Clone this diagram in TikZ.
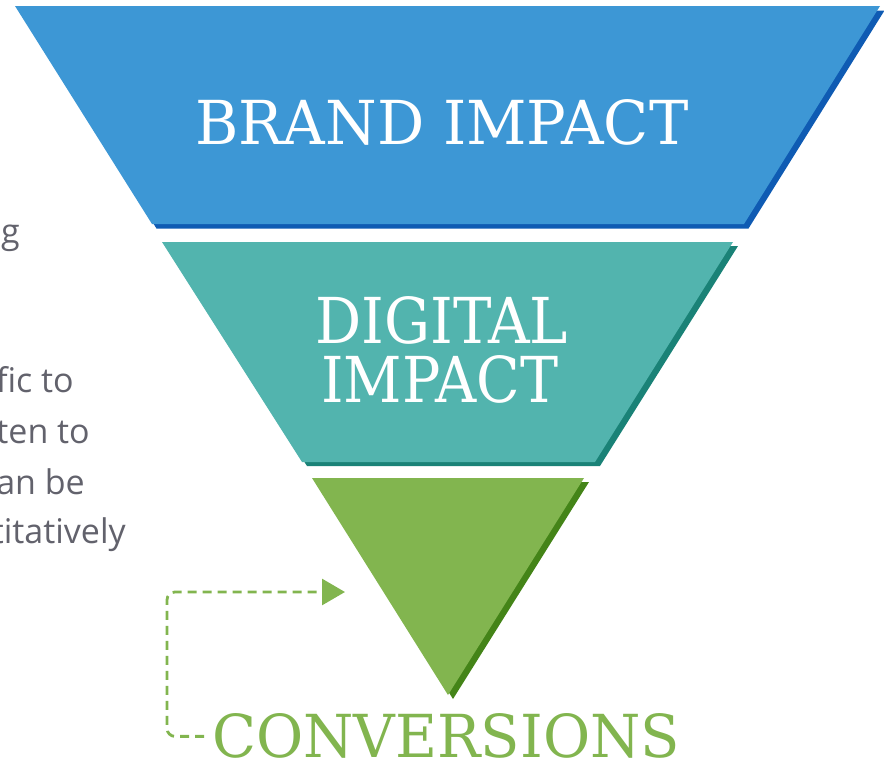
\documentclass[tikz,border=0pt]{standalone}
\usepackage{fontspec}
\setmainfont{DejaVu Serif}
\newfontfamily\bodyfont{Open Sans}
\usetikzlibrary{arrows.meta}
\definecolor{bluemain}{HTML}{3D97D5}
\definecolor{blueshade}{HTML}{0F5BB3}
\definecolor{tealmain}{HTML}{52B4AE}
\definecolor{tealshade}{HTML}{1A8277}
\definecolor{greenmain}{HTML}{82B54F}
\definecolor{greenshade}{HTML}{448418}
\definecolor{bodygray}{HTML}{62626C}
\tikzset{
  headtext/.style={inner sep=0pt, text=white, anchor=south west},
  sidetext/.style={inner sep=0pt, text=bodygray, anchor=base east, font=\bodyfont\fontsize{34}{34}\selectfont},
  convarrow/.style={draw=greenmain, line width=2.8pt, dash pattern=on 9pt off 6pt, rounded corners=8pt,
    -{Triangle[length=23pt,width=26pt]}},
}
\begin{document}
\begin{tikzpicture}[x=1pt,y=-1pt]
\useasboundingbox (0,0) rectangle (884,763);
\clip (0,0) rectangle (884,763);
% side text (cut off at left edge)
\node[sidetext] (s1) at (20,243) {g};
\node[sidetext] (s2) at (74,392) {fic to};
\node[sidetext] (s3) at (90,443) {ten to};
\node[sidetext] (s4) at (85,494) {an be};
\node[sidetext] (s5) at (126,543) {titatively};
% blue band
\fill[blueshade] (19.5,10.5) -- (884.5,10.5) -- (748.5,228.5) -- (156.5,228.5) -- cycle;
\fill[bluemain] (15,6) -- (880,6) -- (744,224) -- (152,224) -- cycle;
% teal band
\fill[tealshade] (167,246) -- (738,246) -- (600,466) -- (307,466) -- cycle;
\fill[tealmain] (162,242) -- (733,242) -- (595,462) -- (302,462) -- cycle;
% green triangle
\fill[greenshade] (317,482) -- (589,482) -- (453,699) -- cycle;
\fill[greenmain] (312,478) -- (584,478) -- (448,695) -- cycle;
% labels
\node[headtext] (brand) at (195,146) {\resizebox{493pt}{45pt}{BRAND IMPACT}};
\node[headtext] (digital) at (315,345) {\resizebox{253pt}{47pt}{DIGITAL}};
\node[headtext] (impact) at (321,404) {\resizebox{237pt}{47pt}{IMPACT}};
\node[headtext, text=greenmain] (conv) at (212,759) {\resizebox{468pt}{44pt}{CONVERSIONS}};
% dashed connector
\coordinate (tip) at (345,592);
\draw[convarrow] ([xshift=-8pt]conv.west) -| ([xshift=-178pt]tip.center) -- (tip);
\end{tikzpicture}
\end{document}
